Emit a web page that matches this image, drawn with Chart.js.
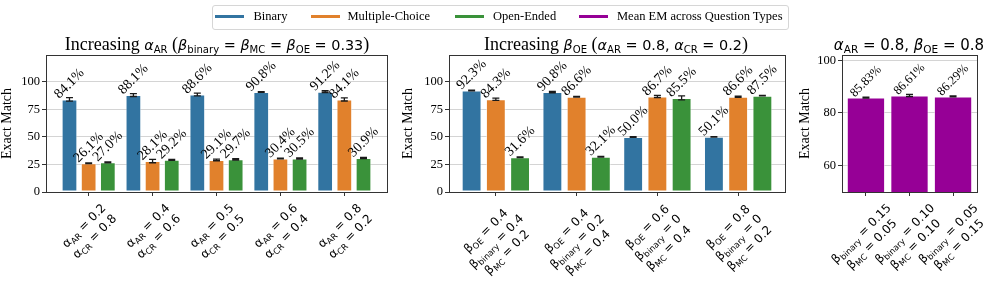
<!DOCTYPE html>
<html><head><meta charset="utf-8">
<script src="https://cdn.jsdelivr.net/npm/chart.js@4.4.1/dist/chart.umd.min.js"></script>
<style>
html,body{margin:0;padding:0;background:#fff;}
body{width:997px;height:286px;position:relative;overflow:hidden;font-family:'Liberation Serif',serif;color:#000;}
canvas{position:absolute;top:0;}
.title{position:absolute;white-space:nowrap;font-size:18px;line-height:20px;transform:translateX(-50%);}
.m{font-family:'DejaVu Sans',sans-serif;font-size:14.4px;}
.i{font-style:italic;}
sub{font-size:70%;vertical-align:-0.28em;line-height:0;font-style:normal;}
#legend{position:absolute;left:212px;top:5px;width:575px;height:23px;border:1px solid #d6d6d6;border-radius:3px;}
.sw{position:absolute;top:15px;height:3px;width:29px;}
.lt{position:absolute;top:8px;font-size:12.5px;line-height:16px;white-space:nowrap;}
</style></head>
<body>
<div id="legend"></div>
<canvas id="c1" width="396" height="286" style="left:-1px"></canvas>
<canvas id="c2" width="395" height="286" style="left:400px"></canvas>
<canvas id="c3" width="200" height="286" style="left:797px"></canvas>
<div class="title" style="left:217px;top:34px">Increasing <span class="m"><span class="i">α</span><sub>AR</sub></span> (<span class="m"><span class="i">β</span><sub>binary</sub> = <span class="i">β</span><sub>MC</sub> = <span class="i">β</span><sub>OE</sub> = 0.33</span>)</div>
<div class="title" style="left:616px;top:34px">Increasing <span class="m"><span class="i">β</span><sub>OE</sub></span> (<span class="m"><span class="i">α</span><sub>AR</sub> = 0.8, <span class="i">α</span><sub>CR</sub> = 0.2</span>)</div>
<div class="title" style="left:909px;top:34px"><span class="m" style="font-size:15px"><span class="i">α</span><sub>AR</sub> = 0.8, <span class="i">β</span><sub>OE</sub> = 0.8</span></div>
<script>
// ---------------- data ----------------
const seriesNames = ['Binary', 'Multiple-Choice', 'Open-Ended', 'Mean EM across Question Types'];
const seriesColors = ['#3274a1', '#e1812c', '#3a923a', '#960096'];

const p1Ticks = [['α_{AR} = 0.2', 'α_{CR} = 0.8'], ['α_{AR} = 0.4', 'α_{CR} = 0.6'], ['α_{AR} = 0.5', 'α_{CR} = 0.5'], ['α_{AR} = 0.6', 'α_{CR} = 0.4'], ['α_{AR} = 0.8', 'α_{CR} = 0.2']];
const p1Binary = [84.1, 88.1, 88.6, 90.8, 91.2];
const p1BinaryErr = [1.6, 1.3, 1.3, 0.3, 0.8];
const p1MC = [26.1, 28.1, 29.1, 30.4, 84.1];
const p1MCErr = [0.4, 1.5, 0.7, 0.3, 1.4];
const p1OE = [27.0, 29.2, 29.7, 30.5, 30.9];
const p1OEErr = [0.4, 0.4, 0.6, 0.6, 0.6];

const p2Ticks = [['β_{OE} = 0.4', 'β_{binary} = 0.4', 'β_{MC} = 0.2'], ['β_{OE} = 0.4', 'β_{binary} = 0.2', 'β_{MC} = 0.4'], ['β_{OE} = 0.6', 'β_{binary} = 0', 'β_{MC} = 0.4'], ['β_{OE} = 0.8', 'β_{binary} = 0', 'β_{MC} = 0.2']];
const p2Binary = [92.3, 90.8, 50.0, 50.1];
const p2BinaryErr = [0.3, 0.6, 0.3, 0.2];
const p2MC = [84.3, 86.6, 86.7, 86.6];
const p2MCErr = [1.0, 0.3, 1.0, 0.5];
const p2OE = [31.6, 32.1, 85.5, 87.5];
const p2OEErr = [0.4, 0.3, 1.8, 0.2];

const p3Ticks = [['β_{binary} = 0.15', 'β_{MC} = 0.05'], ['β_{binary} = 0.10', 'β_{MC} = 0.10'], ['β_{binary} = 0.05', 'β_{MC} = 0.15']];
const p3Mean = [85.83, 86.61, 86.29];
const p3MeanErr = [0.15, 0.4, 0.15];

const yTicksAB = [0, 25, 50, 75, 100];
const yTicksC = [60, 80, 100];

// ---------------- legend (HTML) ----------------
const legendSw = [215, 311, 455, 579];
const legendTx = [253.5, 347.5, 493, 617];
const lg = document.body;
seriesNames.forEach((n, i) => {
  const s = document.createElement('div'); s.className = 'sw';
  s.style.left = legendSw[i] + 'px'; s.style.background = seriesColors[i]; lg.appendChild(s);
  const t = document.createElement('div'); t.className = 'lt';
  t.style.left = legendTx[i] + 'px'; t.textContent = n; lg.appendChild(t);
});

// ---------------- helpers ----------------
function segs(s) {
  const out = []; const re = /_\{([^}]*)\}/g; let last = 0, m;
  while ((m = re.exec(s))) {
    if (m.index > last) out.push({ t: s.slice(last, m.index), sub: false });
    out.push({ t: m[1], sub: true }); last = re.lastIndex;
  }
  if (last < s.length) out.push({ t: s.slice(last), sub: false });
  return out;
}
function segFont(sub, fs) { return (sub ? (fs * 0.7).toFixed(1) : fs) + 'px "DejaVu Sans"'; }
function lineW(ctx, s, fs) {
  let w = 0; segs(s).forEach(g => { ctx.font = segFont(g.sub, fs); w += ctx.measureText(g.t).width; }); return w;
}
function drawRich(ctx, s, x, y, fs) {
  segs(s).forEach(g => {
    ctx.font = segFont(g.sub, fs);
    ctx.fillText(g.t, x, g.sub ? y + fs * 0.22 : y);
    x += ctx.measureText(g.t).width;
  });
}

function richTicksPlugin(labels, fs, lh, angleDeg, offset) {
  return {
    id: 'richTicks',
    afterDraw(chart) {
      const xs = chart.scales.x, ctx = chart.ctx, ang = angleDeg * Math.PI / 180;
      const top = chart.chartArea.bottom + offset;
      labels.forEach((lines, i) => {
        const x = xs.getPixelForValue(i);
        const widths = lines.map(l => lineW(ctx, l, fs));
        const W = Math.max(...widths), H = lines.length * lh;
        const bh = W * Math.sin(ang) + H * Math.cos(ang);
        ctx.save();
        ctx.translate(x, top + bh / 2); ctx.rotate(-ang);
        ctx.fillStyle = '#000'; ctx.textBaseline = 'alphabetic'; ctx.textAlign = 'left';
        lines.forEach((l, k) => {
          const cy = (k - (lines.length - 1) / 2) * lh;
          drawRich(ctx, l, -widths[k] / 2, cy + fs * 0.38, fs);
        });
        ctx.restore();
      });
    }
  };
}

function barExtrasPlugin(values, errors, decimals, fs, angleDeg) {
  return {
    id: 'barExtras',
    afterDatasetsDraw(chart) {
      const ctx = chart.ctx, ys = chart.scales.y, ang = angleDeg * Math.PI / 180;
      values.forEach((vals, d) => {
        const meta = chart.getDatasetMeta(d);
        meta.data.forEach((el, i) => {
          const x = el.x, t = ys.getPixelForValue(vals[i] + errors[d][i]), b = ys.getPixelForValue(vals[i] - errors[d][i]);
          ctx.save(); ctx.strokeStyle = '#1a1a1a'; ctx.lineWidth = 1.3;
          ctx.beginPath();
          ctx.moveTo(x, t); ctx.lineTo(x, b);
          ctx.moveTo(x - 3.5, t); ctx.lineTo(x + 3.5, t);
          ctx.moveTo(x - 3.5, b); ctx.lineTo(x + 3.5, b);
          ctx.stroke(); ctx.restore();
        });
      });
      values.forEach((vals, d) => {
        const meta = chart.getDatasetMeta(d);
        meta.data.forEach((el, i) => {
          const txt = vals[i].toFixed(decimals) + '%';
          ctx.save();
          ctx.font = fs + 'px "Liberation Serif"';
          const w = ctx.measureText(txt).width, h = fs * 0.8;
          const bh = w * Math.sin(ang) + h * Math.cos(ang);
          const yTop = ys.getPixelForValue(vals[i]) + 1;
          ctx.translate(el.x, yTop - bh / 2); ctx.rotate(-ang);
          ctx.fillStyle = '#000'; ctx.textAlign = 'center'; ctx.textBaseline = 'middle';
          ctx.fillText(txt, 0, 0);
          ctx.restore();
        });
      });
    },
    afterDraw(chart) {
      const a = chart.chartArea, ctx = chart.ctx;
      ctx.save(); ctx.strokeStyle = '#333'; ctx.lineWidth = 1;
      ctx.strokeRect(Math.round(a.left) + 0.5, Math.round(a.top) + 0.5, Math.round(a.right - a.left), Math.round(a.bottom - a.top));
      ctx.restore();
    }
  };
}

function makeChart(id, cfg) {
  const datasets = cfg.series.map((vals, d) => ({
    label: cfg.names[d],
    data: vals.map((v, i) => ({ x: i, y: v })),
    backgroundColor: cfg.colors[d],
    borderColor: 'rgba(255,255,255,0.55)',
    borderWidth: 1,
    borderSkipped: false,
    categoryPercentage: cfg.catPct,
    barPercentage: cfg.barPct
  }));
  return new Chart(document.getElementById(id), {
    type: 'bar',
    data: { datasets },
    options: {
      responsive: false, animation: false, devicePixelRatio: 1,
      layout: { padding: { top: 55, right: cfg.padRight, left: 0, bottom: 0 } },
      plugins: { legend: { display: false }, tooltip: { enabled: false } },
      scales: {
        x: {
          type: 'linear', min: cfg.xMin, max: cfg.xMax, offset: false,
          afterBuildTicks: s => { s.ticks = cfg.ticks.map((_, i) => ({ value: i })); },
          ticks: { display: false },
          grid: { display: true, offset: false, drawOnChartArea: false, drawTicks: true, tickLength: 4, tickColor: '#333' },
          border: { display: true, color: '#333' },
          afterFit: s => { s.height = 94; }
        },
        y: {
          min: cfg.yMin, max: cfg.yMax,
          afterBuildTicks: s => { s.ticks = cfg.yTicks.map(v => ({ value: v })); },
          ticks: { font: { family: 'Liberation Serif', size: 12.5 }, color: '#000', padding: 2 },
          grid: { color: '#d4d4d4', lineWidth: 1, tickColor: '#333', tickLength: 4 },
          border: { display: true, color: '#333' },
          title: { display: true, text: 'Exact Match', color: '#000', font: { family: 'Liberation Serif', size: 14 }, padding: { top: 0, bottom: 0 } },
          afterFit: s => { s.width = cfg.yWidth; }
        }
      }
    },
    plugins: [barExtrasPlugin(cfg.series, cfg.errors, cfg.decimals, cfg.valueFs, 45), richTicksPlugin(cfg.ticks, 12, 15, 45, 8)]
  });
}

makeChart('c1', {
  names: seriesNames.slice(0, 3), colors: seriesColors.slice(0, 3),
  series: [p1Binary, p1MC, p1OE], errors: [p1BinaryErr, p1MCErr, p1OEErr],
  ticks: p1Ticks, decimals: 1, yTicks: yTicksAB, yMin: 0, yMax: 124.5,
  xMin: -0.6675, xMax: 4.6675, catPct: 0.9, barPct: 0.82,
  yWidth: 47, padRight: 8, valueFs: 14
});
makeChart('c2', {
  names: seriesNames.slice(0, 3), colors: seriesColors.slice(0, 3),
  series: [p2Binary, p2MC, p2OE], errors: [p2BinaryErr, p2MCErr, p2OEErr],
  ticks: p2Ticks, decimals: 1, yTicks: yTicksAB, yMin: 0, yMax: 124.5,
  xMin: -0.58, xMax: 3.58, catPct: 0.9, barPct: 0.82,
  yWidth: 49, padRight: 10, valueFs: 14
});
makeChart('c3', {
  names: [seriesNames[3]], colors: [seriesColors[3]],
  series: [p3Mean], errors: [p3MeanErr],
  ticks: p3Ticks, decimals: 2, yTicks: yTicksC, yMin: 50, yMax: 102,
  xMin: -0.55, xMax: 2.55, catPct: 1, barPct: 0.88,
  yWidth: 45, padRight: 20, valueFs: 12.5
});
</script>
</body></html>
